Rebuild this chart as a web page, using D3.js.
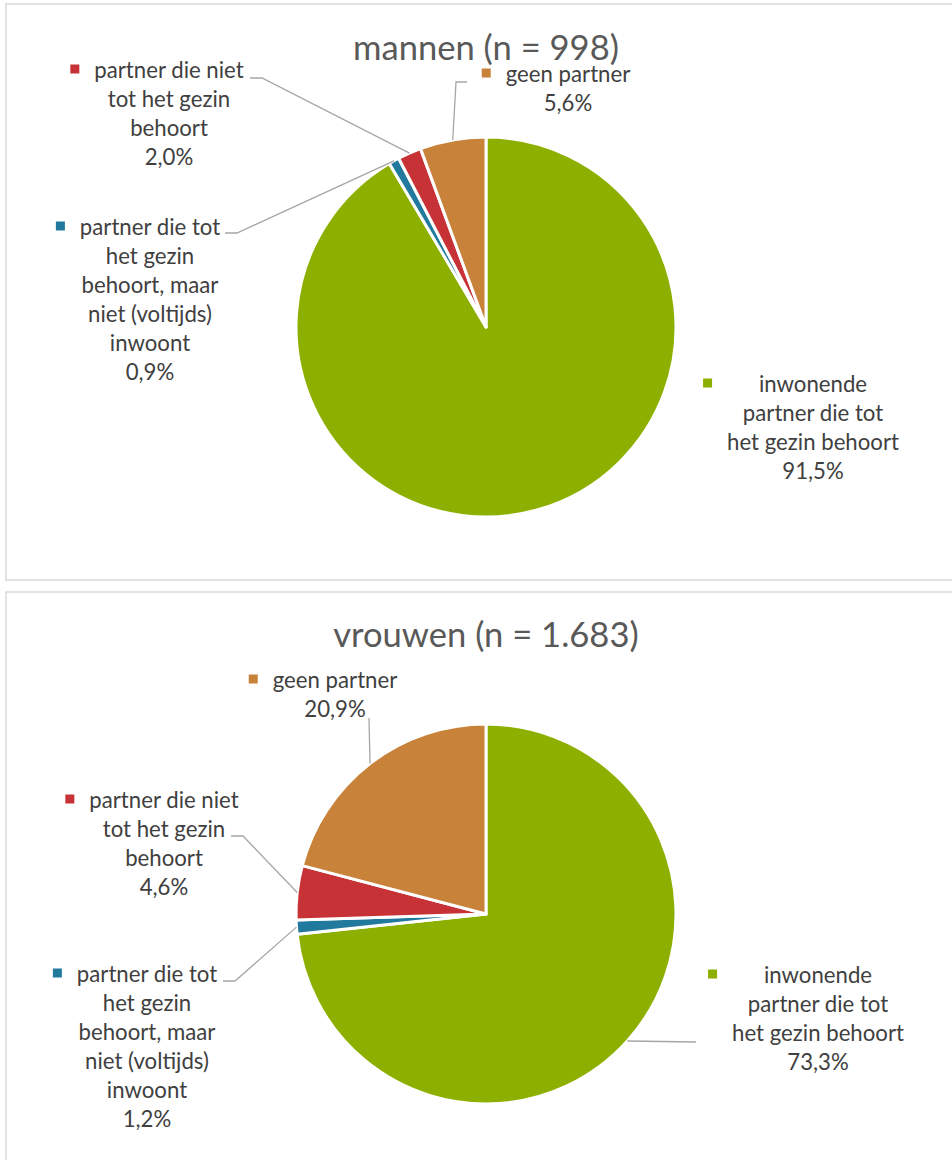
<!DOCTYPE html>
<html>
<head>
<meta charset="utf-8">
<script src="https://cdn.jsdelivr.net/npm/d3@7/dist/d3.min.js"></script>
<style>
  html, body { margin: 0; padding: 0; background: #fff; }
  svg { display: block; }
  text { font-family: "Lato", "Open Sans", sans-serif; }
</style>
</head>
<body>
<svg id="chart" width="952" height="1160"></svg>
<script>
// ---- data ----
const categories = [
  "inwonende partner die tot het gezin behoort",
  "partner die tot het gezin behoort, maar niet (voltijds) inwoont",
  "partner die niet tot het gezin behoort",
  "geen partner"
];
const categoryLines = [
  ["inwonende", "partner die tot", "het gezin behoort"],
  ["partner die tot", "het gezin", "behoort, maar", "niet (voltijds)", "inwoont"],
  ["partner die niet", "tot het gezin", "behoort"],
  ["geen partner"]
];
const mannenValues = [91.5, 0.9, 2.0, 5.6];
const vrouwenValues = [73.3, 1.2, 4.6, 20.9];
const chartTitles = ["mannen (n = 998)", "vrouwen (n = 1.683)"];
const sliceColors = ["#8db000", "#217a9d", "#c63235", "#c8823a"];

// ---- layout ----
const layouts = [
  { cx: 486, cy: 327, r: 190, titleY: 60, panelY: 4, panelH: 576,
    labels: [
      { cx: 813, y: 392, leader: null },
      { cx: 150, y: 235, leader: [[225, 233], [237, 233]] },
      { cx: 169, y: 78,  leader: [[250, 78], [262, 78]] },
      { cx: 568, y: 82,  leader: [[467, 82], [456, 82]] }
    ] },
  { cx: 486, cy: 914, r: 190, titleY: 647, panelY: 592, panelH: 600,
    labels: [
      { cx: 818, y: 983, leader: [[696, 1042]] },
      { cx: 147, y: 982, leader: [[223, 981], [235, 981]] },
      { cx: 164, y: 808, leader: [[231, 836], [243, 836]] },
      { cx: 335, y: 688, leader: [[369, 718]] }
    ] }
];
const datasets = [mannenValues, vrouwenValues];
const lineH = 29;

const svg = d3.select("#chart");

// fit fonts to the reference text widths
function measure(str, size) {
  const t = svg.append("text").attr("font-size", size).text(str);
  const w = t.node().getComputedTextLength();
  t.remove();
  return w;
}
const labelSize = 24 * 172 / measure("het gezin behoort", 24);
const titleSize = 37 * 266 / measure("mannen (n = 998)", 37);

const fmt = v => d3.format(".1f")(v).replace(".", ",") + "%";

datasets.forEach((values, ci) => {
  const L = layouts[ci];
  const g = svg.append("g");

  g.append("rect")
    .attr("x", 6).attr("y", L.panelY)
    .attr("width", 1000).attr("height", L.panelH)
    .attr("fill", "#fff").attr("stroke", "#d9d9d9").attr("stroke-width", 1.5);

  g.append("text")
    .attr("x", L.cx).attr("y", L.titleY)
    .attr("text-anchor", "middle")
    .attr("font-size", titleSize)
    .attr("fill", "#595959")
    .text(chartTitles[ci]);

  const pie = d3.pie().sort(null).value(d => d)(values);
  const arc = d3.arc().innerRadius(0).outerRadius(L.r);
  const edge = d3.arc().innerRadius(L.r).outerRadius(L.r);

  g.append("g").attr("transform", `translate(${L.cx},${L.cy})`)
    .selectAll("path").data(pie).join("path")
    .attr("d", arc)
    .attr("fill", (d, i) => sliceColors[i])
    .attr("stroke", "#fff").attr("stroke-width", 3).attr("stroke-linejoin", "round");

  pie.forEach((d, i) => {
    const lab = L.labels[i];
    if (lab.leader) {
      const c = edge.centroid(d);
      const pts = lab.leader.concat([[L.cx + c[0], L.cy + c[1]]]);
      g.append("path")
        .attr("d", d3.line()(pts))
        .attr("fill", "none").attr("stroke", "#a6a6a6").attr("stroke-width", 1.3);
    }
    const lines = categoryLines[i].concat([fmt(values[i])]);
    const tg = g.append("g");
    let maxW = 0;
    lines.forEach((s, k) => {
      const t = tg.append("text")
        .attr("x", lab.cx).attr("y", lab.y + k * lineH)
        .attr("text-anchor", "middle")
        .attr("font-size", labelSize)
        .attr("fill", "#404040")
        .text(s);
      maxW = Math.max(maxW, t.node().getComputedTextLength());
    });
    const sq = 9;
    tg.append("rect")
      .attr("x", lab.cx - maxW / 2 - 15 - sq)
      .attr("y", lab.y - 9 - sq / 2)
      .attr("width", sq).attr("height", sq)
      .attr("fill", sliceColors[i]);
  });
});
</script>
</body>
</html>
